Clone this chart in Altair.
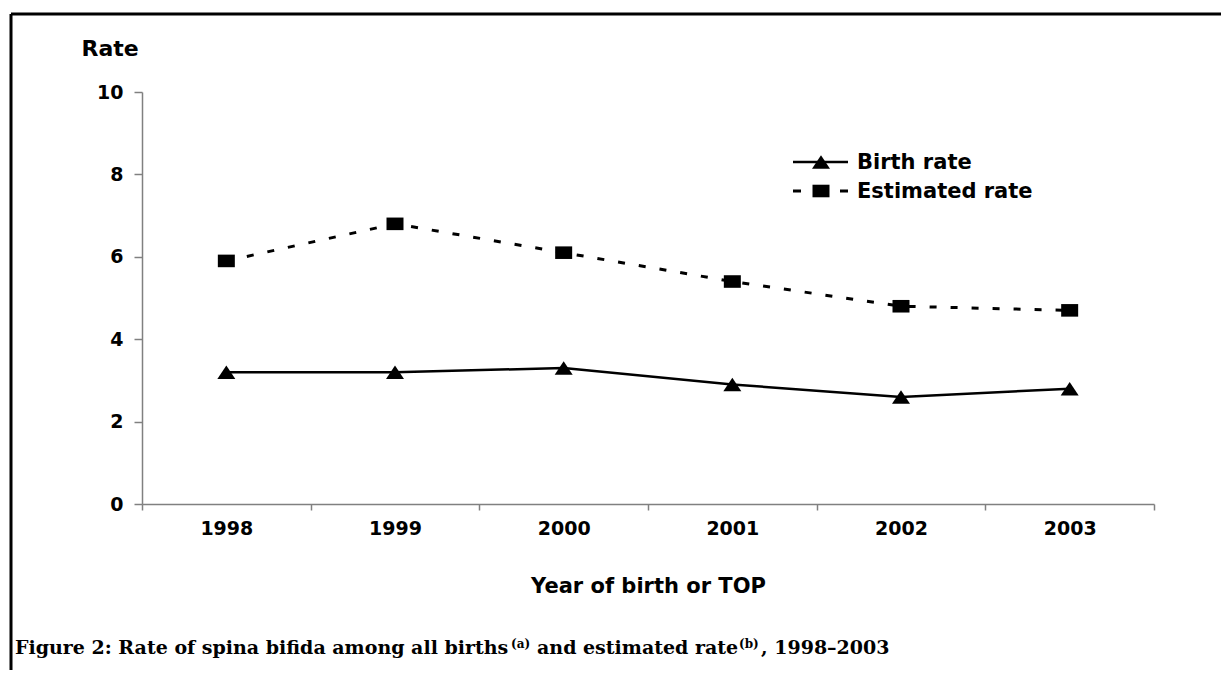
import altair as alt
import pandas as pd

years = ["1998", "1999", "2000", "2001", "2002", "2003"]
birth_rate = [3.2, 3.2, 3.3, 2.9, 2.6, 2.8]
estimated_rate = [5.9, 6.8, 6.1, 5.4, 4.8, 4.7]
y_ticks = [0, 2, 4, 6, 8, 10]

df = pd.DataFrame({
    "year": years * 2,
    "rate": birth_rate + estimated_rate,
    "series": ["Birth rate"] * len(years) + ["Estimated rate"] * len(years),
})

W, H = 1012, 412
FONT = "DejaVu Sans"
SERIF = "DejaVu Serif"
TRI = "M0,-0.75L1,0.75L-1,0.75Z"
SQR = "M-1,-0.74L1,-0.74L1,0.74L-1,0.74Z"
GRAY = "#808080"

x_enc = alt.X(
    "year:N",
    bandPosition=0.5,
    scale=alt.Scale(type="band", domain=years, paddingInner=0, paddingOuter=0),
    axis=alt.Axis(
        title="Year of birth or TOP", labelAngle=0, tickBand="extent", grid=False,
        labelFont=FONT, labelFontSize=19, labelFontWeight="bold", labelColor="black",
        domainColor=GRAY, domainWidth=1.5, tickColor=GRAY, tickWidth=1.5, tickSize=6,
        labelPadding=9, titleFont=FONT, titleFontSize=21, titleFontWeight="bold",
        titleColor="black", titleY=88, titleBaseline="alphabetic",
    ),
)
y_enc = alt.Y(
    "rate:Q",
    scale=alt.Scale(domain=[0, 10], nice=False),
    axis=alt.Axis(
        values=y_ticks, title="Rate", grid=False, format="d",
        labelFont=FONT, labelFontSize=19, labelFontWeight="bold", labelColor="black",
        domainColor=GRAY, domainWidth=1.5, tickColor=GRAY, tickWidth=1.5, tickSize=8,
        labelPadding=11, titleFont=FONT, titleFontSize=22, titleFontWeight="bold",
        titleColor="black", titleAngle=0, titleAlign="left", titleBaseline="alphabetic",
        titleX=-61, titleY=-37,
    ),
)

base = alt.Chart(df).encode(x=x_enc, y=y_enc)
birth = base.transform_filter(alt.datum.series == "Birth rate")
est = base.transform_filter(alt.datum.series == "Estimated rate")

birth_line = birth.mark_line(color="black", strokeWidth=2.5)
birth_pts = birth.mark_point(shape=TRI, size=324, filled=True, color="black", opacity=1)
est_line = est.mark_line(color="black", strokeWidth=3, strokeDash=[7, 14])
est_pts = est.mark_point(shape=SQR, size=289, filled=True, color="black", opacity=1)

one = pd.DataFrame({"k": [0]})
anchor = alt.Chart(one)

# legend
leg_line1 = anchor.mark_rule(color="black", strokeWidth=2.5).encode(
    x=alt.value(651), x2=alt.value(706), y=alt.value(70))
leg_tri = anchor.mark_point(shape=TRI, size=324, filled=True, color="black", opacity=1).encode(
    x=alt.value(679), y=alt.value(70))
leg_txt1 = anchor.mark_text(text="Birth rate", align="left", baseline="middle", font=FONT,
                            fontSize=21, fontWeight="bold", color="black").encode(
    x=alt.value(715), y=alt.value(71))
leg_line2 = anchor.mark_rule(color="black", strokeWidth=3, strokeDash=[8, 39]).encode(
    x=alt.value(651), x2=alt.value(706), y=alt.value(99))
leg_sq = anchor.mark_point(shape=SQR, size=289, filled=True, color="black", opacity=1).encode(
    x=alt.value(679), y=alt.value(99))
leg_txt2 = anchor.mark_text(text="Estimated rate", align="left", baseline="middle", font=FONT,
                            fontSize=21, fontWeight="bold", color="black").encode(
    x=alt.value(715), y=alt.value(100))

# border (top and left edges)
border_top = anchor.mark_rule(color="black", strokeWidth=3).encode(
    x=alt.value(-131), x2=alt.value(1200), y=alt.value(-78))
border_left = anchor.mark_rule(color="black", strokeWidth=3).encode(
    x=alt.value(-131), y=alt.value(-78), y2=alt.value(700))

# caption
cap_base_y = 562
def cap(text, xpos, size=19, dy=0):
    return anchor.mark_text(text=text, align="left", baseline="alphabetic", font=SERIF,
                            fontSize=size, fontWeight="bold", color="black").encode(
        x=alt.value(xpos), y=alt.value(cap_base_y + dy))

caption = (
    cap("Figure 2: Rate of spina bifida among all births", -127)
    + cap("(a)", 369, size=12, dy=-6)
    + cap("and estimated rate", 395)
    + cap("(b)", 597, size=12, dy=-6)
    + cap(", 1998\u20132003", 619)
)

chart = alt.layer(
    border_top, border_left,
    est_line, birth_line, est_pts, birth_pts,
    leg_line1, leg_tri, leg_txt1, leg_line2, leg_sq, leg_txt2,
    caption,
).properties(
    width=W, height=H,
    autosize=alt.AutoSizeParams(type="none"),
    padding={"left": 134, "top": 84, "right": 67, "bottom": 166},
).configure_view(stroke=None)

chart.save("out.html", embed_options={"renderer": "svg", "actions": False})
